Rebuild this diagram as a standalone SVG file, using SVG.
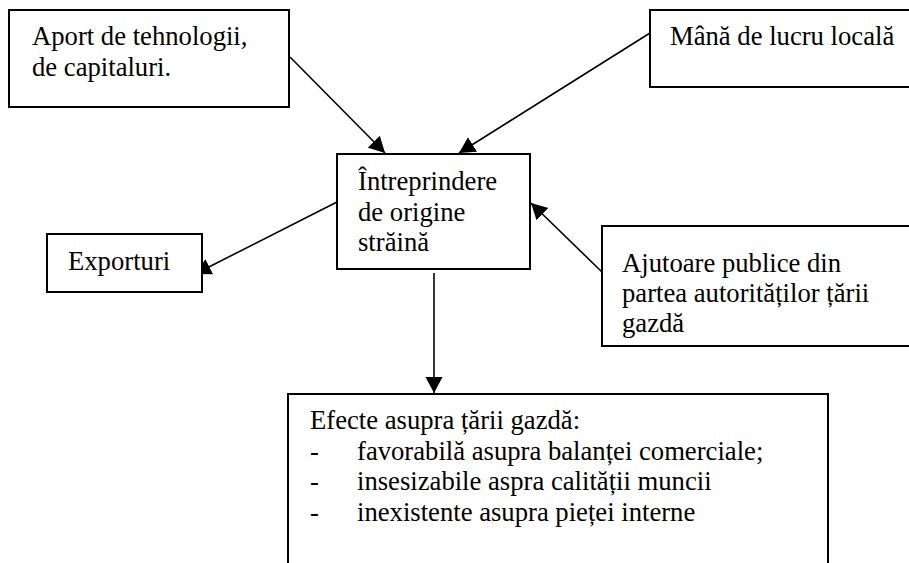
<svg xmlns="http://www.w3.org/2000/svg" width="909" height="563" viewBox="0 0 909 563">
  <style>
    .box { fill: #ffffff; stroke: #000000; stroke-width: 2; }
    .lbl { font-family: "Liberation Serif", "Times New Roman", serif; font-size: 26.67px; fill: #000000; }
    .conn { stroke: #000000; stroke-width: 1.6; fill: none; marker-end: url(#arrow); }
  </style>
  <defs>
    <marker id="arrow" markerUnits="userSpaceOnUse" markerWidth="18" markerHeight="18" viewBox="0 0 18 18" refX="16" refY="9" orient="auto">
      <path d="M0,0.5 L16,9 L0,17.5 z" fill="#000000"/>
    </marker>
  </defs>
  <rect width="909" height="563" fill="#ffffff"/>

  <g id="connectors">
    <line class="conn" x1="290" y1="57" x2="385" y2="153"/>
    <line class="conn" x1="650" y1="33" x2="459" y2="153"/>
    <line class="conn" x1="337" y1="202" x2="195" y2="274"/>
    <line class="conn" x1="602" y1="272" x2="531" y2="203"/>
    <line class="conn" x1="434" y1="273" x2="434" y2="393"/>
  </g>

  <g id="aport">
    <rect class="box" x="9" y="10" width="280" height="97"/>
    <text class="lbl" x="32" y="45">Aport de tehnologii,</text>
    <text class="lbl" x="32" y="76">de capitaluri.</text>
  </g>

  <g id="mana-de-lucru">
    <rect class="box" x="650" y="10" width="270" height="77"/>
    <text class="lbl" x="670" y="45">Mână de lucru locală</text>
  </g>

  <g id="intreprindere">
    <rect class="box" x="337" y="154" width="193" height="115"/>
    <text class="lbl" x="358" y="190">Întreprindere</text>
    <text class="lbl" x="358" y="220.5">de origine</text>
    <text class="lbl" x="358" y="251">străină</text>
  </g>

  <g id="exporturi">
    <rect class="box" x="47" y="234" width="155" height="58"/>
    <text class="lbl" x="68" y="270">Exporturi</text>
  </g>

  <g id="ajutoare">
    <rect class="box" x="602" y="226" width="320" height="120"/>
    <text class="lbl" x="622" y="272">Ajutoare publice din</text>
    <text class="lbl" x="622" y="302">partea autorităților țării</text>
    <text class="lbl" x="622" y="332">gazdă</text>
  </g>

  <g id="efecte">
    <rect class="box" x="288" y="394" width="540" height="190"/>
    <text class="lbl" x="310" y="429">Efecte asupra țării gazdă:</text>
    <text class="lbl" x="310" y="459.5">-</text>
    <text class="lbl" x="357" y="459.5">favorabilă asupra balanței comerciale;</text>
    <text class="lbl" x="310" y="490">-</text>
    <text class="lbl" x="357" y="490">insesizabile aspra calității muncii</text>
    <text class="lbl" x="310" y="520.5">-</text>
    <text class="lbl" x="357" y="520.5">inexistente asupra pieței interne</text>
  </g>
</svg>
